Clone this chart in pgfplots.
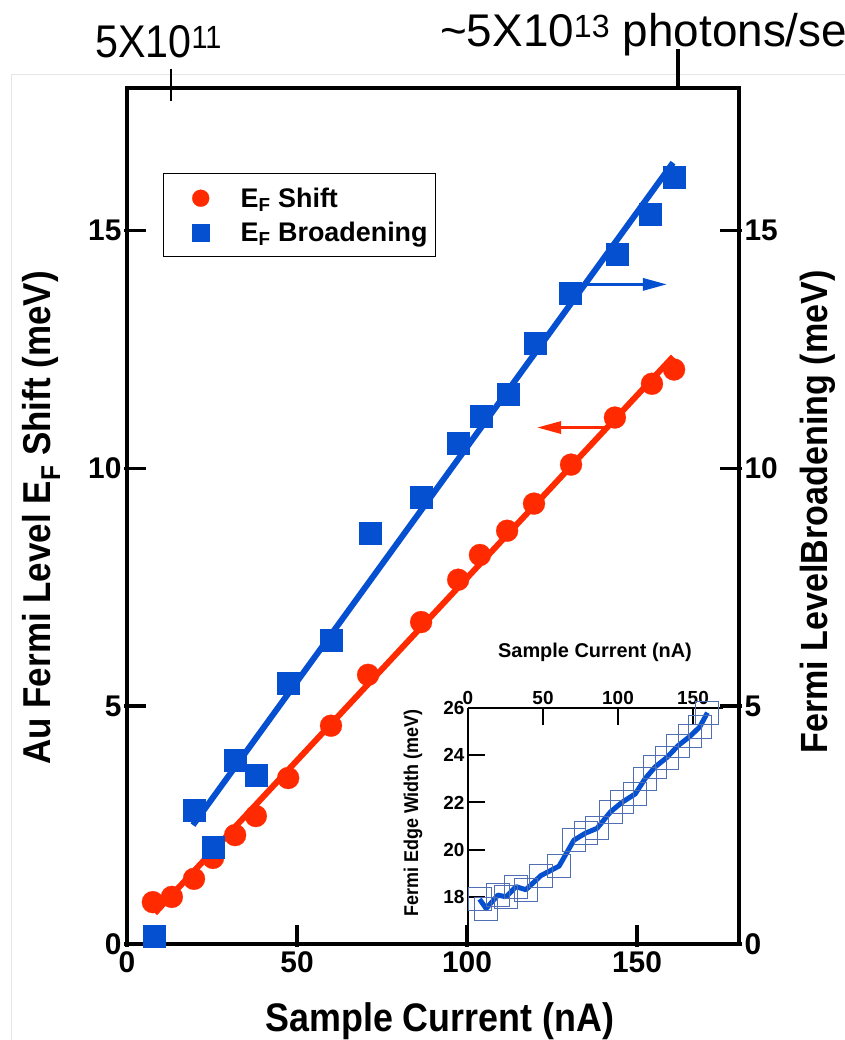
\documentclass[border=0pt]{standalone}
\usepackage{fontspec}
\setmainfont{Liberation Sans}
\newfontfamily\narrowsans[FakeStretch=0.9]{Liberation Sans}
\usepackage{pgfplots}
\usepackage{pgfplotstable}
\pgfplotsset{compat=1.18}
\usetikzlibrary{arrows.meta}

\definecolor{shiftred}{RGB}{255,42,0}
\definecolor{broadblue}{RGB}{5,80,208}
\definecolor{boxblue}{RGB}{80,110,180}

\newcommand{\fs}[1]{\fontsize{#1}{#1}\selectfont}

% Fermi level shift (left axis) vs. sample current
\pgfplotstableread{
I      shift
7.6    0.88
13.2   0.99
19.7   1.37
25.3   1.81
31.8   2.29
37.9   2.69
47.4   3.49
60.0   4.59
70.9   5.66
86.5   6.77
97.4   7.66
103.8  8.18
111.8  8.69
119.7  9.26
130.6  10.08
143.5  11.07
154.4  11.78
160.9  12.08
}\shifttable

% Fermi level broadening (right axis) vs. sample current
\pgfplotstableread{
I      broad
7.9    0.17
19.7   2.82
25.3   2.04
31.8   3.87
37.9   3.56
47.4   5.49
60.0   6.40
71.5   8.65
86.5   9.40
97.4   10.54
104.1  11.11
112.0  11.57
120.0  12.64
130.3  13.68
144.0  14.50
153.8  15.34
160.9  16.12
}\broadtable

% linear fits
\pgfplotstableread{
I      fit
8.2    0.65
160.6  12.35
}\shiftfit
\pgfplotstableread{
I      fit
19.4   2.50
160.6  16.43
}\broadfit

% Fermi edge width (inset)
\pgfplotstableread{
I      width
7.7    17.90
12.1   17.50
19.9   18.07
25.4   18.00
32.0   18.43
38.6   18.30
48.6   18.90
60.7   19.30
70.6   20.40
78.4   20.70
86.0   20.90
95.0   21.60
102.6  22.00
111.5  22.36
118.0  23.00
124.7  23.50
132.5  23.90
140.0  24.40
148.0  24.80
154.5  25.20
159.6  25.80
}\widthtable

\begin{document}
\begin{tikzpicture}[x=1bp,y=1bp]
\path[use as bounding box] (0,0) rectangle (845,1040);
\draw[black!10, line width=1bp] (11,0) -- (11,965) -- (845,965);

% photon flux annotations
\node[anchor=base west, inner sep=0pt, font=\narrowsans\fs{46}] at (95,982)
  {5X10\textsuperscript{11}};
\node[anchor=base west, inner sep=0pt, font=\fs{46}] at (440,993)
  {\textasciitilde5X10\textsuperscript{13} photons/sec};

% main axis: Fermi level shift (left)
\begin{axis}[
  at={(127bp,96bp)}, anchor=south west,
  scale only axis, width=612bp, height=856bp,
  xmin=0, xmax=180, ymin=0, ymax=18,
  clip=false,
  xtick={0,50,100,150}, ytick={0,5,10,15},
  xtick pos=bottom, ytick pos=left,
  tick align=inside, major tick length=22bp,
  every tick/.style={black, line width=3.5bp},
  x tick style={yshift=-3bp},
  y tick style={xshift=-3bp},
  axis line style={line width=4.5bp},
  /pgf/number format/assume math mode=true,
  tick label style={font=\bfseries\fs{30}},
  xticklabel style={yshift=-4bp},
  yticklabel style={xshift=-2bp},
  xlabel={Sample Current (nA)},
  xlabel style={font=\narrowsans\bfseries\fs{40}, at={(rel axis cs:0.511,-0.1028)}, anchor=base},
  ylabel={Au Fermi Level E\textsubscript{F} Shift (meV)},
  ylabel style={font=\narrowsans\bfseries\fs{39}, at={(rel axis cs:-0.1405,0.4977)}, anchor=center},
  legend style={at={(0.0588,0.9007)}, anchor=north west, draw=black, line width=1.5bp,
    font=\bfseries\fs{27}, inner xsep=8bp, inner ysep=12bp, row sep=9bp,
    nodes={inner xsep=0bp, inner ysep=2bp}, cells={anchor=west}},
]
\addlegendimage{legend image code/.code={
    \path[draw=none] (0bp,-4bp) rectangle (69bp,4bp);
    \path[shiftred, draw=none, only marks, mark=*, mark size=8.5bp,
          mark options={draw=shiftred, fill=shiftred, line width=0.2bp}]
      plot coordinates {(29bp,0bp)};}}
\addlegendentry{E\textsubscript{F} Shift}
\addlegendimage{legend image code/.code={
    \path[draw=none] (0bp,-4bp) rectangle (69bp,4bp);
    \path[broadblue, draw=none, only marks, mark=square*, mark size=8.5bp,
          mark options={draw=broadblue, fill=broadblue, line width=0.2bp}]
      plot coordinates {(29bp,0bp)};}}
\addlegendentry{E\textsubscript{F} Broadening}

\addplot[shiftred, only marks, mark=*, mark size=11bp,
  mark options={draw=shiftred, fill=shiftred, line width=0.2bp}, forget plot]
  table[x=I, y=shift] {\shifttable};
\addplot[shiftred, line width=6bp, forget plot] table[x=I, y=fit] {\shiftfit};

% arrow pointing to the left axis
\draw[shiftred, line width=3bp, -{Triangle[length=24bp, width=12bp]}]
  (axis cs:141.2,10.86) -- (axis cs:120.6,10.86);

% top reference ticks for the photon flux
\draw[black, line width=2.5bp] (axis cs:12.94,18) ++(0,19bp) -- ++(0,-32bp);
\draw[black, line width=4bp] (axis cs:162.1,18) -- ++(0,39bp);
\end{axis}

% overlaid axis: Fermi level broadening (right)
\begin{axis}[
  at={(127bp,96bp)}, anchor=south west,
  scale only axis, width=612bp, height=856bp,
  xmin=0, xmax=180, ymin=0, ymax=18,
  clip=false,
  axis x line=none, axis y line*=right,
  ytick={0,5,10,15},
  tick align=inside, major tick length=22bp,
  every tick/.style={black, line width=3.5bp},
  y tick style={xshift=3bp},
  axis line style={line width=4.5bp, -},
  /pgf/number format/assume math mode=true,
  tick label style={font=\bfseries\fs{30}},
  yticklabel style={xshift=2bp},
  ylabel={Fermi LevelBroadening (meV)},
  ylabel style={font=\narrowsans\bfseries\fs{38}, at={(rel axis cs:1.129,0.5047)}, anchor=center, rotate=0},
]
\addplot[broadblue, line width=6bp] table[x=I, y=fit] {\broadfit};
\addplot[broadblue, only marks, mark=square*, mark size=11bp,
  mark options={draw=broadblue, fill=broadblue, line width=0.2bp}]
  table[x=I, y=broad] {\broadtable};

% arrow pointing to the right axis
\draw[broadblue, line width=3bp, -{Triangle[length=24bp, width=12bp]}]
  (axis cs:135.3,13.87) -- (axis cs:158.8,13.87);
\end{axis}

% inset: Fermi edge width
\begin{axis}[
  at={(468bp,96bp)}, anchor=south west,
  scale only axis, width=255bp, height=236bp,
  xmin=0, xmax=170, ymin=16, ymax=26,
  axis x line*=top, axis y line*=left,
  axis line style={line width=2bp, -},
  xtick={0,50,100,150}, ytick={18,20,22,24,26},
  tick align=inside, major tick length=17bp,
  every tick/.style={black, line width=2bp},
  /pgf/number format/assume math mode=true,
  tick label style={font=\bfseries\fs{19}},
  xlabel={Sample Current (nA)},
  xlabel style={font=\bfseries\fs{20}, at={(rel axis cs:0.498,1.212)}, anchor=base},
  ylabel={Fermi Edge Width (meV)},
  ylabel style={font=\narrowsans\bfseries\fs{20}, at={(rel axis cs:-0.2157,0.555)}, anchor=center},
]
\addplot[boxblue, only marks, mark=square, mark size=11.5bp, mark options={draw=boxblue, line width=1bp}]
  table[x=I, y=width] {\widthtable};
\addplot[broadblue, line width=5bp, line join=round] table[x=I, y=width] {\widthtable};
\end{axis}
\end{tikzpicture}
\end{document}
